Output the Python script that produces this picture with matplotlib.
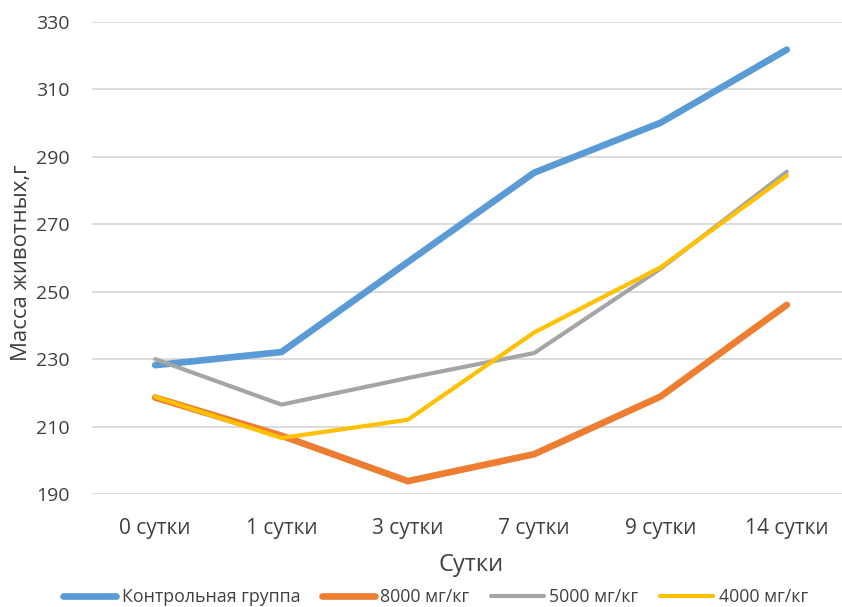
import matplotlib
matplotlib.use("Agg")
import matplotlib.pyplot as plt

plt.rcParams['font.family'] = ['Open Sans', 'DejaVu Sans']

days = ["0 сутки", "1 сутки", "3 сутки", "7 сутки", "9 сутки", "14 сутки"]
control = [228.2, 232.1, 258.8, 285.3, 300.1, 321.8]
dose_8000 = [218.6, 207.3, 193.8, 201.8, 218.9, 246.1]
dose_5000 = [230.0, 216.5, 224.4, 231.8, 256.8, 285.6]
dose_4000 = [218.8, 206.6, 212.0, 237.9, 257.2, 284.4]
yticks = [190, 210, 230, 250, 270, 290, 310, 330]

series = [
    ("Контрольная группа", control, "#5B9BD5", 4.8),
    ("8000 мг/кг", dose_8000, "#ED7D31", 4.8),
    ("5000 мг/кг", dose_5000, "#A5A5A5", 3.0),
    ("4000 мг/кг", dose_4000, "#FFC000", 3.0),
]

fig = plt.figure(figsize=(8.42, 6.07), dpi=100)
ax = fig.add_axes([0.1093, 0.1862, 0.9002, 0.7776])

x = list(range(len(days)))
for name, vals, color, lw in series:
    ax.plot(x, vals, color=color, lw=lw, label=name, solid_capstyle='round',
            solid_joinstyle='round')

ax.set_xlim(-0.5, len(days) - 0.5)
ax.set_ylim(190, 330)
ax.set_yticks(yticks)
ax.set_xticks(x)
ax.set_xticklabels(days)
ax.grid(axis='y', color='#D9D9D9', lw=1.3)
ax.set_axisbelow(True)
for s in ax.spines.values():
    s.set_visible(False)
ax.tick_params(axis='both', length=0, colors='#404040')
ax.tick_params(axis='y', pad=16, labelsize=14)
ax.tick_params(axis='x', pad=17, labelsize=15)

fig.text(0.559, 0.069, "Сутки", ha='center', va='center', fontsize=17, color='#404040')
fig.text(0.025, 0.567, "Масса животных,г", ha='center', va='center', rotation=90,
         fontsize=16, color='#404040')

leg = fig.legend(loc='center', bbox_to_anchor=(0.517, 0.016), ncol=4, frameon=False,
                 fontsize=12.8, handlelength=3.0, handletextpad=0.3, columnspacing=1.2,
                 labelcolor='#404040')

fig.savefig("out.png", dpi=100)
